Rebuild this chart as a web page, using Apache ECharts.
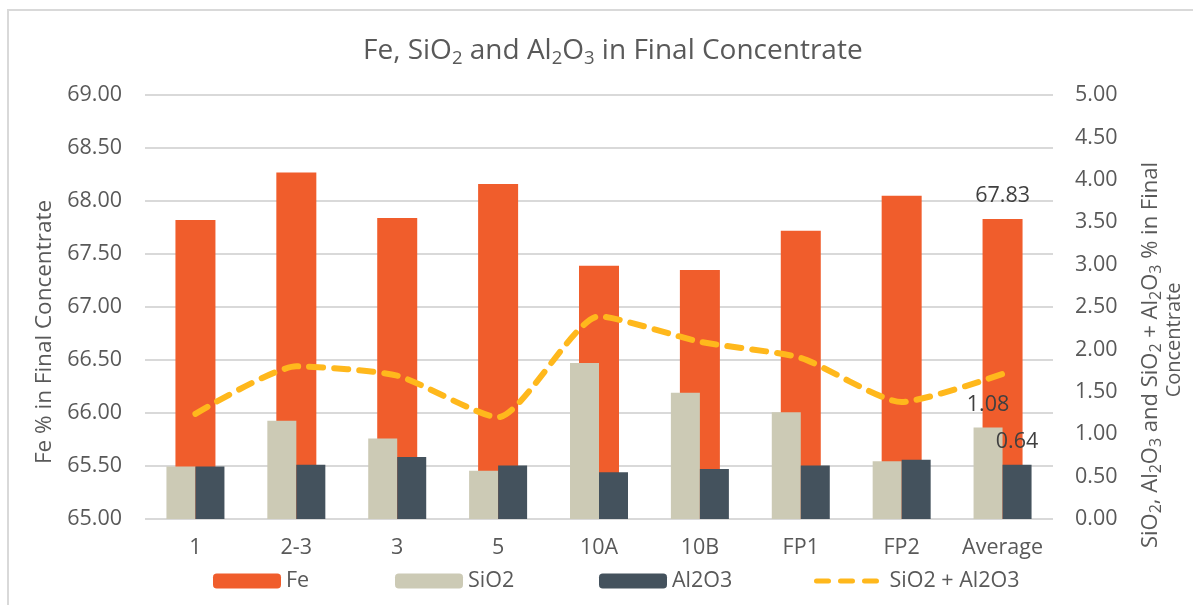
<!DOCTYPE html>
<html>
<head>
<meta charset="utf-8">
<script src="https://cdn.jsdelivr.net/npm/echarts@6/dist/echarts.min.js"></script>
<style>
  html, body { margin: 0; padding: 0; background: #ffffff; }
  #chart { width: 1193px; height: 605px; }
</style>
</head>
<body>
<div id="chart"></div>
<script>
// Sample points along the x axis
const categories = ['1', '2-3', '3', '5', '10A', '10B', 'FP1', 'FP2', 'Average'];

// Fe grade (%), left axis
const feValues = [67.82, 68.27, 67.84, 68.16, 67.39, 67.35, 67.72, 68.05, 67.83];

// Impurities (%), right axis
const sio2Values = [0.62, 1.16, 0.95, 0.57, 1.84, 1.49, 1.26, 0.68, 1.08];
const al2o3Values = [0.62, 0.64, 0.73, 0.63, 0.55, 0.59, 0.63, 0.70, 0.64];
const sumValues = [1.24, 1.80, 1.69, 1.20, 2.39, 2.09, 1.90, 1.38, 1.71];

// Axis ranges
const feAxisRange = [65, 69];
const impurityAxisRange = [0, 5];
const tickStep = 0.5;

const FONT = "'Open Sans', 'Noto Sans', sans-serif";
const FS = 21.5;
const TEXT = '#595959';
const LABEL = '#404040';
const LINE_COLOR = '#FFB81C';

// Only the last (Average) bar of each series carries a value label
function withLastLabel(values) {
  return values.map((v, i) => i === values.length - 1
    ? { value: v, label: { show: true } }
    : v);
}

const valueLabel = {
  show: false,
  position: 'top',
  distance: 12,
  fontFamily: FONT,
  fontSize: FS,
  color: LABEL,
  formatter: p => Number(p.value).toFixed(2)
};

const titleRich = {
  a: { fontFamily: FONT, fontSize: 28, fontWeight: 'normal', color: TEXT },
  s: { fontFamily: FONT, fontSize: 18.5, fontWeight: 'normal', color: TEXT, padding: [14, 0, 0, 0] }
};
const axisRich = {
  a: { fontFamily: FONT, fontSize: 22, fill: TEXT, color: TEXT },
  s: { fontFamily: FONT, fontSize: 16, fill: TEXT, color: TEXT, padding: [11, 0, 0, 0] }
};

const chart = echarts.init(document.getElementById('chart'), null, { renderer: 'canvas' });

chart.setOption({
  backgroundColor: '#ffffff',
  animation: false,
  title: {
    text: '{a|Fe, SiO}{s|2}{a| and Al}{s|2}{a|O}{s|3}{a| in Final Concentrate}',
    left: 358,
    top: 30,
    textStyle: { fontWeight: 'normal', rich: titleRich }
  },
  legend: [
    { data: ['Fe'], left: 208 },
    { data: ['SiO2'], left: 390 },
    { data: ['Al2O3'], left: 594 },
    {
      data: ['SiO2 + Al2O3'], left: 809,
      itemStyle: { opacity: 0 },
      lineStyle: { width: 5, type: [12, 12], cap: 'round', color: LINE_COLOR }
    }
  ].map(l => Object.assign({
    top: 565,
    itemWidth: 68,
    itemHeight: 15,
    itemGap: 0,
    textStyle: { fontFamily: FONT, fontSize: FS, color: TEXT }
  }, l)),
  grid: { left: 145, right: 140, top: 95, bottom: 86, containLabel: false },
  xAxis: [
    {
      type: 'category',
      data: categories,
      axisLine: { show: false },
      axisTick: { show: false },
      axisLabel: { interval: 0, fontFamily: FONT, fontSize: FS, color: TEXT, margin: 18 }
    },
    {
      // Hidden twin axis so the Fe bars sit centred behind the impurity pair
      type: 'category',
      data: categories,
      show: false
    }
  ],
  yAxis: [
    {
      type: 'value',
      min: feAxisRange[0],
      max: feAxisRange[1],
      interval: tickStep,
      axisLine: { show: false },
      axisTick: { show: false },
      axisLabel: {
        fontFamily: FONT, fontSize: FS, color: TEXT, margin: 23,
        formatter: v => v.toFixed(2)
      },
      splitLine: { show: true, lineStyle: { color: '#D9D9D9', width: 2 } }
    },
    {
      type: 'value',
      position: 'right',
      min: impurityAxisRange[0],
      max: impurityAxisRange[1],
      interval: tickStep,
      axisLine: { show: false },
      axisTick: { show: false },
      axisLabel: {
        fontFamily: FONT, fontSize: FS, color: TEXT, margin: 22,
        formatter: v => v.toFixed(2)
      },
      splitLine: { show: false }
    }
  ],
  series: [
    {
      name: 'Fe',
      type: 'bar',
      xAxisIndex: 1,
      yAxisIndex: 0,
      barWidth: 40,
      z: 1,
      itemStyle: { color: '#F05D2C' },
      label: valueLabel,
      data: withLastLabel(feValues)
    },
    {
      name: 'SiO2',
      type: 'bar',
      xAxisIndex: 0,
      yAxisIndex: 1,
      barWidth: 29,
      barGap: '0%',
      z: 2,
      itemStyle: { color: '#CCCAB5' },
      label: valueLabel,
      data: withLastLabel(sio2Values)
    },
    {
      name: 'Al2O3',
      type: 'bar',
      xAxisIndex: 0,
      yAxisIndex: 1,
      barWidth: 29,
      barGap: '0%',
      z: 2,
      itemStyle: { color: '#44525D' },
      label: valueLabel,
      data: withLastLabel(al2o3Values)
    },
    {
      name: 'SiO2 + Al2O3',
      type: 'line',
      xAxisIndex: 0,
      yAxisIndex: 1,
      smooth: 0.2,
      symbol: 'none',
      z: 3,
      itemStyle: { color: LINE_COLOR },
      lineStyle: { color: LINE_COLOR, width: 6, type: [14, 11], cap: 'round' },
      data: sumValues
    }
  ],
  graphic: [
    {
      type: 'rect',
      shape: { x: 8, y: 10, width: 1200, height: 620 },
      style: { fill: 'none', stroke: '#D9D9D9', lineWidth: 2 },
      silent: true,
      z: -10
    },
    {
      type: 'text',
      x: 45, y: 332,
      rotation: Math.PI / 2,
      style: {
        text: 'Fe % in Final Concentrate',
        fontFamily: FONT, fontSize: 22.5, fill: TEXT,
        align: 'center', verticalAlign: 'middle'
      }
    },
    {
      type: 'text',
      x: 1151, y: 355,
      rotation: Math.PI / 2,
      style: {
        text: '{a|SiO}{s|2}{a|, Al}{s|2}{a|O}{s|3}{a| and SiO}{s|2}{a| + Al}{s|2}{a|O}{s|3}{a| % in Final}',
        rich: axisRich,
        fill: TEXT,
        align: 'center', verticalAlign: 'middle'
      }
    },
    {
      type: 'text',
      x: 1174, y: 340,
      rotation: Math.PI / 2,
      style: {
        text: 'Concentrate',
        fontFamily: FONT, fontSize: 20, fill: TEXT,
        align: 'center', verticalAlign: 'middle'
      }
    }
  ]
});
</script>
</body>
</html>
